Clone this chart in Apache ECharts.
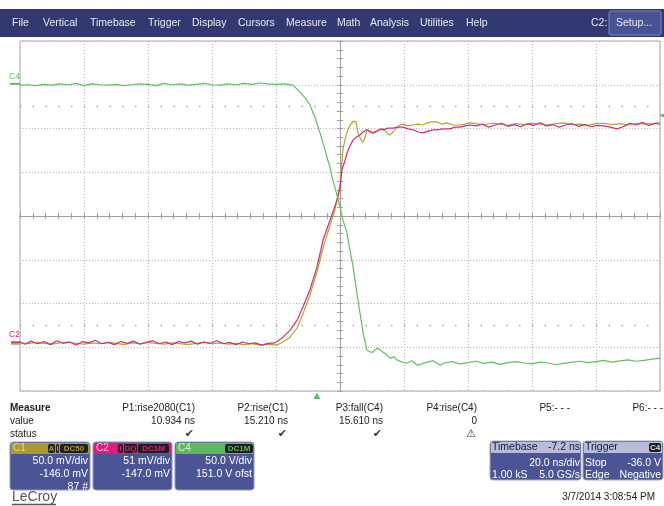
<!DOCTYPE html>
<html><head><meta charset="utf-8">
<script src="https://cdn.jsdelivr.net/npm/echarts@6/dist/echarts.min.js"></script>
<style>html,body{margin:0;padding:0;background:#fff}#c{width:664px;height:506px}</style>
</head><body><div id="c"></div><script>
// ---- data (time in ns, amplitude in divisions) ----
const c1Yellow = [
[-100,-2.90],[-97.5,-2.92],[-95,-2.89],[-92.5,-2.91],[-90,-2.93],[-87.5,-2.90],[-85,-2.88],[-82.5,-2.91],[-80,-2.93],[-77.5,-2.90],
[-75,-2.92],[-72.5,-2.89],[-70,-2.91],[-67.5,-2.94],[-65,-2.90],[-62.5,-2.92],[-60,-2.89],[-57.5,-2.91],[-55,-2.93],[-52.5,-2.90],
[-50,-2.92],[-47.5,-2.94],[-45,-2.91],[-42.5,-2.89],[-40,-2.92],[-37.5,-2.90],[-35,-2.93],[-32.5,-2.91],[-30,-2.94],[-27.5,-2.92],
[-25,-2.95],[-22.5,-2.93],[-19.7,-2.95],[-17.8,-2.88],[-15.6,-2.77],[-13.4,-2.56],[-11.6,-2.24],[-9.4,-1.81],[-7.2,-1.28],[-5.3,-0.73],
[-3.1,-0.21],[-1.6,0.14],[0,0.71],[0.9,1.51],[1.9,1.85],[2.8,2.03],[4.1,2.17],[5.0,2.15],[5.6,1.90],[6.6,1.74],[7.2,1.69],[7.8,1.78],
[8.4,1.97],[9.4,1.94],[10.3,1.90],[11.6,1.94],[12.5,1.97],[13.4,1.99],[14.7,1.90],[15.6,1.85],[16.6,1.92],[17.8,2.03],[18.8,2.08],
[19.7,2.10],[21.3,2.06],[22.8,2.08],[24.4,2.10],[25.9,2.08],[27.2,2.13],[28.8,2.15],[30.3,2.15],[31.9,2.10],[33.4,2.13],[35.3,2.08],
[37.5,2.08],[39.1,2.10],[40.6,2.13],[42.5,2.11],[45,2.08],[47.5,2.12],[50,2.10],[52.5,2.07],[55,2.11],[57.5,2.09],[60,2.12],
[62.5,2.10],[65,2.08],[67.5,2.11],[70,2.13],[72.5,2.09],[75,2.10],[77.5,2.07],[80,2.11],[82.5,2.12],[85,2.09],[87.5,2.11],[90,2.08],
[92.5,2.12],[95,2.10],[97.5,2.11],[100,2.13]
];
const c2Magenta = [
[-100,-2.88],[-98.5,-2.93],[-96.5,-2.86],[-94.5,-2.92],[-92.5,-2.87],[-90.5,-2.94],[-88.5,-2.85],[-86.5,-2.91],[-84.5,-2.88],[-82.5,-2.95],
[-80.5,-2.87],[-78.5,-2.90],[-76.5,-2.84],[-74.5,-2.92],[-72.5,-2.89],[-70.5,-2.94],[-68.5,-2.87],[-66.5,-2.91],[-64.5,-2.86],[-62.5,-2.93],
[-60.5,-2.89],[-58.5,-2.85],[-56.5,-2.92],[-54.5,-2.88],[-52.5,-2.94],[-50.5,-2.87],[-48.5,-2.90],[-46.5,-2.86],[-44.5,-2.93],[-42.5,-2.88],
[-40.5,-2.91],[-38.5,-2.85],[-36.5,-2.92],[-34.5,-2.89],[-32.5,-2.94],[-30.5,-2.88],[-28.5,-2.92],[-26.5,-2.90],[-24.5,-2.95],[-22.5,-2.91],
[-20.3,-2.90],[-17.8,-2.77],[-15.6,-2.61],[-13.4,-2.38],[-11.6,-2.08],[-9.4,-1.69],[-7.2,-1.17],[-5.3,-0.55],[-3.1,-0.09],[-0.9,0.37],
[0,0.64],[0.6,1.05],[1.6,1.28],[2.2,1.44],[3.1,1.60],[4.1,1.74],[5.3,1.81],[6.25,1.85],[7.2,1.92],[8.4,1.97],[9.4,1.92],[10.3,1.90],
[11.6,1.94],[12.5,1.99],[13.4,1.97],[15,2.01],[16.6,2.01],[18.1,2.03],[19.7,2.03],[21.3,1.99],[22.8,1.97],[24.4,1.92],[25.9,1.90],
[27.5,1.94],[29.1,1.97],[30.3,1.97],[32.2,1.99],[34.4,1.99],[35.9,2.03],[37.5,2.03],[39.1,2.06],[40.6,2.08],[42.5,2.06],[44.5,2.10],
[46.5,2.03],[48.5,2.08],[50.5,2.12],[52.5,2.05],[54.5,2.09],[56.5,2.04],[58.5,2.11],[60.5,2.07],[62.5,2.13],[64.5,2.06],[66.5,2.09],
[68.5,2.03],[70.5,2.08],[72.5,2.11],[74.5,2.05],[76.5,2.09],[78.5,2.04],[80.5,2.07],[82.5,2.06],[84.5,2.03],[86.5,1.99],[88.5,2.04],
[90.5,2.12],[92.5,2.08],[94.5,2.14],[96.5,2.07],[98.5,2.12],[100,2.10]
];
const c4Green = [
[-100,2.99],[-97.5,3.00],[-95,2.98],[-92.5,3.01],[-90,2.99],[-87.5,3.02],[-85,3.00],[-82.5,3.03],[-80,2.98],[-77.5,3.02],
[-75,3.00],[-72.5,2.99],[-70,3.01],[-67.5,2.98],[-65,3.00],[-62.5,3.02],[-60,3.01],[-57.5,2.98],[-55,3.03],[-52.5,3.00],
[-50,3.02],[-47.5,2.99],[-45,3.01],[-42.5,3.03],[-40,3.00],[-37.5,2.99],[-35,3.02],[-32.5,3.00],[-30,3.03],[-27.5,3.01],
[-25,3.04],[-22.5,3.02],[-20,3.01],[-17.5,3.02],[-14.7,2.99],[-12.5,2.83],[-10.3,2.65],[-9.4,2.54],[-8.4,2.35],[-7.8,2.26],
[-6.25,1.90],[-4.7,1.51],[-4.1,1.35],[-3.1,1.10],[-2.5,0.89],[-1.6,0.66],[0,0.21],[0.9,-0.09],[2.2,-0.39],[3.1,-0.78],[4.1,-1.17],
[5.6,-1.92],[6.6,-2.38],[7.2,-2.67],[8.4,-3.06],[9.4,-3.11],[10.3,-3.11],[11.6,-3.02],[12.5,-3.06],[13.4,-3.11],[14.7,-3.18],
[15.6,-3.25],[16.9,-3.22],[17.8,-3.29],[19.4,-3.34],[20.9,-3.36],[22.5,-3.31],[24.1,-3.41],[25.6,-3.38],[27.2,-3.34],[29.1,-3.31],
[31.3,-3.41],[32.5,-3.36],[35,-3.33],[37.5,-3.38],[40,-3.35],[42.5,-3.32],[45,-3.37],[47.5,-3.34],[50,-3.39],[52.5,-3.35],[55,-3.33],
[57.5,-3.36],[60,-3.38],[62.5,-3.34],[65,-3.36],[67.5,-3.40],[70,-3.37],[72.5,-3.34],[75,-3.32],[77.5,-3.35],[80,-3.33],[82.5,-3.30],
[85,-3.34],[87.5,-3.31],[90,-3.29],[92.5,-3.32],[95,-3.30],[97.5,-3.27],[100,-3.25]
];
const refLevels = [2.5, -2.5];          // dotted reference rows (div)
const channelZero = {C1:-146/50, C2:-147/51, C4:151/50}; // ground markers (div)
const triggerLevel = 2.3;               // div, C4
const triggerTime = -7.2;               // ns
const menuItems = [['File',12],['Vertical',43],['Timebase',90],['Trigger',148],['Display',192],['Cursors',238],['Measure',286],['Math',337],['Analysis',370],['Utilities',420],['Help',466]];
const measureNames = ['P1:rise2080(C1)','P2:rise(C1)','P3:fall(C4)','P4:rise(C4)','P5:- - -','P6:- - -'];
const measureValues = ['10.934 ns','15.210 ns','15.610 ns','0','',''];
const measureStatus = ['\u2714','\u2714','\u2714','\u26A0','',''];

// ---- chart ----
const FONT = '"Liberation Sans", Arial, sans-serif';
const COL = {c1:'#b3a52c', c2:'#d42a82', c4:'#62bd5e'};
const chart = echarts.init(document.getElementById('c'), null, {renderer:'canvas'});
const gridDash = {color:'#b8b8b8', type:[1,2], width:1};
function tickAxis(pos, interval){
  const horiz = pos==='bottom'||pos==='top';
  return {type:'value', min: horiz ? -100 : -4, max: horiz ? 100 : 4,
    interval, position:pos,
    axisLine:{show:true,onZero:true,lineStyle:{color:'#a0a0a0',width:1}},
    axisTick:{show:true,length:3,inside:false,lineStyle:{color:'#a0a0a0',width:1}},
    axisLabel:{show:false}, splitLine:{show:false}};
}
const option = {
  animation:false,
  backgroundColor:'#ffffff',
  grid:{left:20, top:41, right:4, bottom:115, show:true, borderColor:'#a8a8a8', borderWidth:1, backgroundColor:'#ffffff'},
  xAxis:[
    {type:'value', min:-100, max:100, interval:20, axisLine:{show:false}, axisTick:{show:false}, axisLabel:{show:false}, splitLine:{show:true, lineStyle:gridDash}},
    tickAxis('bottom',4), tickAxis('top',4)
  ],
  yAxis:[
    {type:'value', min:-4, max:4, interval:1, axisLine:{show:false}, axisTick:{show:false}, axisLabel:{show:false}, splitLine:{show:true, lineStyle:gridDash}},
    tickAxis('left',0.2), tickAxis('right',0.2)
  ],
  series:[
    {type:'line', name:'C1', data:c1Yellow, showSymbol:false, symbol:'none', lineStyle:{color:COL.c1,width:1.2}, z:3,
      markLine:{silent:true, symbol:'none', label:{show:false}, lineStyle:{color:'#9e9e9e', type:[1.3,11.5], width:1.3},
        data: refLevels.map(v=>({yAxis:v}))}},
    {type:'line', name:'C2', data:c2Magenta, showSymbol:false, symbol:'none', lineStyle:{color:COL.c2,width:1.2}, z:4},
    {type:'line', name:'C4', data:c4Green, showSymbol:false, symbol:'none', lineStyle:{color:COL.c4,width:1.2}, z:5}
  ]
};
chart.setOption(option);

function txt(s, x, y, o){ o=o||{}; return {type:'text', silent:true, z:o.z||20,
  style:{text:s, x:x, y:y, fill:o.fill||'#222', font:(o.bold?'bold ':'')+(o.size||10)+'px '+(o.font||FONT), align:o.align||'left', verticalAlign:'middle'}}; }
function rect(x,y,w,h,fill,o){ o=o||{}; return {type:'rect', silent:true, z:o.z||10, shape:{x:x,y:y,width:w,height:h,r:o.r||0},
  style:{fill:fill, stroke:o.stroke||null, lineWidth:o.lw||1}}; }
function line(x1,y1,x2,y2,color,w){ return {type:'line', silent:true, z:25, shape:{x1:x1,y1:y1,x2:x2,y2:y2}, style:{stroke:color, lineWidth:w||1}}; }

const g = [];
// menu bar
g.push(rect(0,9,664,28,'#323971',{z:5}));
menuItems.forEach(m=>g.push(txt(m[0], m[1], 23, {fill:'#e8e8f2', size:10.5})));
g.push(txt('C2:', 591, 23, {fill:'#e8e8f2', size:10.5}));
g.push(rect(609,11,52,24,'#4a5392',{stroke:'#7f87c2', r:2, z:6}));
g.push(txt('Setup...', 616, 23, {fill:'#e8e8f2', size:10.5}));

// measure table
g.push(txt('Measure',10,408,{bold:true}));
g.push(txt('value',10,421));
g.push(txt('status',10,434));
const colRight = [195,288,383,477,570,663];
measureNames.forEach((n,i)=>{
  g.push(txt(n, colRight[i], 408, {align:'right'}));
  if (measureValues[i]) g.push(txt(measureValues[i], colRight[i], 421, {align:'right'}));
  if (measureStatus[i]) g.push(txt(measureStatus[i], colRight[i]-1, 434, {align:'right', fill:'#3a3a3a', size:11, font:'"DejaVu Sans", sans-serif'}));
});

// channel boxes
const boxes = [
  {x:10, head:'#a99b2d', lab:'C1', labFill:'#e2d98c', badges:[['A',48,55],['I',56,59],['DC50',60,88]], lines:['50.0 mV/div','-146.0 mV','87 #']},
  {x:93, head:'#e01b7d', lab:'C2', labFill:'#ffc0dd', badges:[['I',118,123],['DQ',124,137],['DC1M',138,169]], lines:['51 mV/div','-147.0 mV']},
  {x:175, head:'#5eb95c', lab:'C4', labFill:'#d8f2d4', badges:[['DC1M',225,253]], lines:['50.0 V/div','151.0 V ofst']}
];
boxes.forEach(b=>{
  const w = b.x===10 ? 80 : 79;
  g.push(rect(b.x,442,w,48,'#4b5495',{stroke:'#9296c6', r:3}));
  g.push(rect(b.x+1,443,w-2,11,b.head,{z:11}));
  g.push(txt(b.lab, b.x+3, 448.5, {fill:b.labFill, size:10}));
  b.badges.forEach(bd=>{
    g.push(rect(bd[1],444,bd[2]-bd[1],9,'#1f1f1f',{r:2,z:12}));
    g.push(txt(bd[0], (bd[1]+bd[2])/2, 448.8, {fill:b.head, size:8, align:'center', bold:true}));
  });
  b.lines.forEach((l,i)=>g.push(txt(l, b.x+w-2, 461+i*13, {fill:'#ffffff', size:10.5, align:'right'})));
});

// timebase / trigger
g.push(rect(490,441,91,39,'#4b5495',{stroke:'#a2a6cc', r:3}));
g.push(rect(491,442,89,11,'#b9bcd6',{z:11}));
g.push(txt('Timebase',492,447.5,{fill:'#151a40', size:10.5}));
g.push(txt('-7.2 ns',580,447.5,{fill:'#151a40', size:10.5, align:'right'}));
g.push(txt('20.0 ns/div',580,463,{fill:'#fff', size:10.5, align:'right'}));
g.push(txt('1.00 kS',492,475,{fill:'#fff', size:10.5}));
g.push(txt('5.0 GS/s',580,475,{fill:'#fff', size:10.5, align:'right'}));
g.push(rect(583,441,80,39,'#4b5495',{stroke:'#a2a6cc', r:3}));
g.push(rect(584,442,78,11,'#b9bcd6',{z:11}));
g.push(txt('Trigger',585,447.5,{fill:'#151a40', size:10.5}));
g.push(rect(649,443,12,9,'#1f1f1f',{r:2,z:12}));
g.push(txt('C4',655,447.8,{fill:'#dcdcdc', size:8, align:'center', bold:true}));
g.push(txt('Stop',585,463,{fill:'#fff', size:10.5}));
g.push(txt('-36.0 V',661,463,{fill:'#fff', size:10.5, align:'right'}));
g.push(txt('Edge',585,475,{fill:'#fff', size:10.5}));
g.push(txt('Negative',661,475,{fill:'#fff', size:10.5, align:'right'}));

// logo and date
g.push(txt('LeCroy',12,497,{size:14, fill:'#555'}));
g.push(line(12,504.5,56,504.5,'#555',1.5));
g.push(txt('3/7/2014 3:08:54 PM',655,497,{align:'right', size:10}));

// channel markers computed through the axes
const yC4 = chart.convertToPixel({yAxisIndex:0}, channelZero.C4);
const yC2 = chart.convertToPixel({yAxisIndex:0}, channelZero.C2);
const yC1 = chart.convertToPixel({yAxisIndex:0}, channelZero.C1);
const yTrig = chart.convertToPixel({yAxisIndex:0}, triggerLevel);
const xTrig = chart.convertToPixel({xAxisIndex:0}, triggerTime);
g.push(line(10,yC4,20,yC4,COL.c4,2));
g.push(txt('C4',9,yC4-7,{fill:COL.c4, size:8.5}));
g.push(line(11,yC1,20,yC1,COL.c1,2));
g.push(line(11,yC2,20,yC2,COL.c2,1.6));
g.push(txt('C2',9,yC2-7,{fill:COL.c2, size:8.5}));
g.push({type:'polygon', silent:true, z:25, shape:{points:[[660,yTrig],[664,yTrig-2],[664,yTrig+2]]}, style:{fill:COL.c4}});
g.push(line(660,yTrig,664,yTrig,COL.c4,1.5));
g.push({type:'polygon', silent:true, z:25, shape:{points:[[xTrig,392.5],[xTrig-3.5,399],[xTrig+3.5,399]]}, style:{fill:COL.c4}});

chart.setOption({graphic:g});
</script></body></html>
